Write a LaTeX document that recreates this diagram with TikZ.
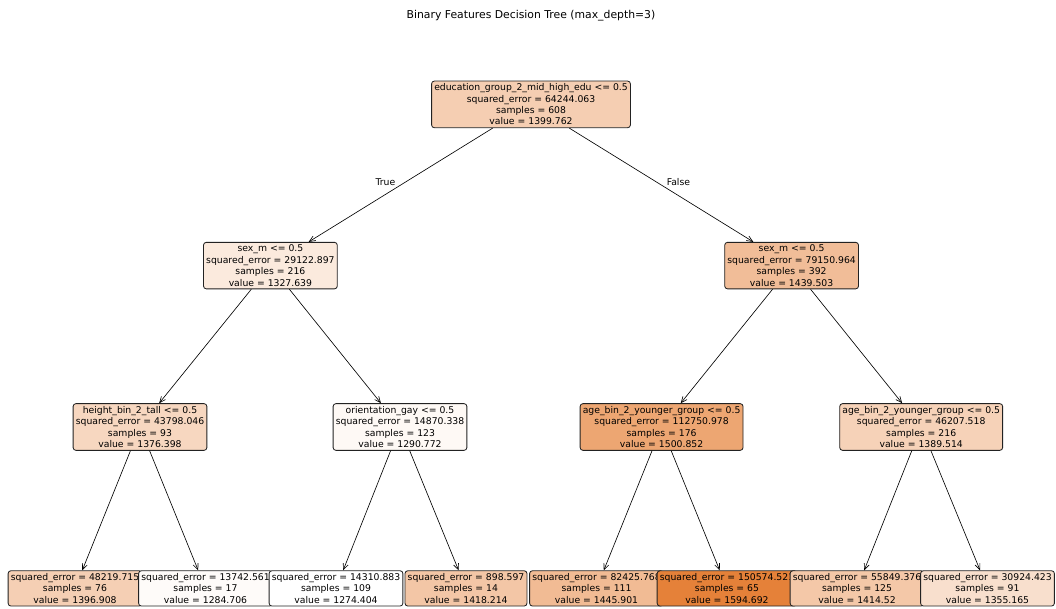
\documentclass[tikz,border=0pt]{standalone}
\usepackage{fontspec}
\setmainfont{DejaVu Sans}
\usepackage{xcolor}
\usepackage{tikz}
\usetikzlibrary{arrows.meta}
\definecolor{valc}{RGB}{229,129,57}
\definecolor{edgec}{HTML}{222222}

\begin{document}
\begin{tikzpicture}[
  font=\fontsize{6.6}{8.1}\selectfont,
  dn/.style={rectangle, draw=edgec, line width=0.6pt, rounded corners=2pt,
             align=center, inner sep=1.9pt},
  e/.style={-{Straight Barb[length=1.5mm, width=1.3mm]}, line width=0.45pt},
  el/.style={inner sep=1pt, pos=0.52}]
\useasboundingbox (0,0) rectangle (26.4,15.2);
\node[font=\fontsize{7.7}{9}\selectfont] (title) at (13.275,14.8)
     {Binary Features Decision Tree (max\_depth=3)};
% depth 0 and 1
\node[dn, fill=valc!39!white] (root) at (13.275,12.59)
     {education\_group\_2\_mid\_high\_edu <= 0.5\\squared\_error = 64244.063\\samples = 608\\value = 1399.762};
\node[dn, fill=valc!17!white] (l) at (6.76,8.56)
     {sex\_m <= 0.5\\squared\_error = 29122.897\\samples = 216\\value = 1327.639};
\node[dn, fill=valc!52!white] (r) at (19.79,8.56)
     {sex\_m <= 0.5\\squared\_error = 79150.964\\samples = 392\\value = 1439.503};
\draw[e] (root) -- node[el, anchor=south east] (t) {True} (l);
\draw[e] (root) -- node[el, anchor=south west] (f) {False} (r);
% depth 2
\node[dn, fill=valc!32!white] (ll) at (3.5,4.525)
     {height\_bin\_2\_tall <= 0.5\\squared\_error = 43798.046\\samples = 93\\value = 1376.398};
\node[dn, fill=valc!5!white] (lr) at (10.0,4.525)
     {orientation\_gay <= 0.5\\squared\_error = 14870.338\\samples = 123\\value = 1290.772};
\node[dn, fill=valc!71!white] (rl) at (16.54,4.525)
     {age\_bin\_2\_younger\_group <= 0.5\\squared\_error = 112750.978\\samples = 176\\value = 1500.852};
\node[dn, fill=valc!36!white] (rr) at (23.03,4.525)
     {age\_bin\_2\_younger\_group <= 0.5\\squared\_error = 46207.518\\samples = 216\\value = 1389.514};
\draw[e] (l) -- (ll);
\draw[e] (l) -- (lr);
\draw[e] (r) -- (rl);
\draw[e] (r) -- (rr);
% leaves, drawn left to right so each box covers the one before
\node[dn, fill=valc!38!white] (lll) at (1.875,0.49)
     {squared\_error = 48219.715\\samples = 76\\value = 1396.908};
\node[dn, fill=valc!3!white] (llr) at (5.1375,0.49)
     {squared\_error = 13742.561\\samples = 17\\value = 1284.706};
\node[dn, fill=white] (lrl) at (8.4,0.49)
     {squared\_error = 14310.883\\samples = 109\\value = 1274.404};
\node[dn, fill=valc!45!white] (lrr) at (11.65,0.49)
     {squared\_error = 898.597\\samples = 14\\value = 1418.214};
\node[dn, fill=valc!54!white] (rll) at (14.9125,0.49)
     {squared\_error = 82425.768\\samples = 111\\value = 1445.901};
\node[dn, fill=valc] (rlr) at (18.175,0.49)
     {squared\_error = 150574.521\\samples = 65\\value = 1594.692};
\node[dn, fill=valc!44!white] (rrl) at (21.425,0.49)
     {squared\_error = 55849.376\\samples = 125\\value = 1414.52};
\node[dn, fill=valc!25!white] (rrr) at (24.6875,0.49)
     {squared\_error = 30924.423\\samples = 91\\value = 1355.165};
\draw[e] (ll) -- (lll);
\draw[e] (ll) -- (llr);
\draw[e] (lr) -- (lrl);
\draw[e] (lr) -- (lrr);
\draw[e] (rl) -- (rll);
\draw[e] (rl) -- (rlr);
\draw[e] (rr) -- (rrl);
\draw[e] (rr) -- (rrr);
\end{tikzpicture}
\end{document}
